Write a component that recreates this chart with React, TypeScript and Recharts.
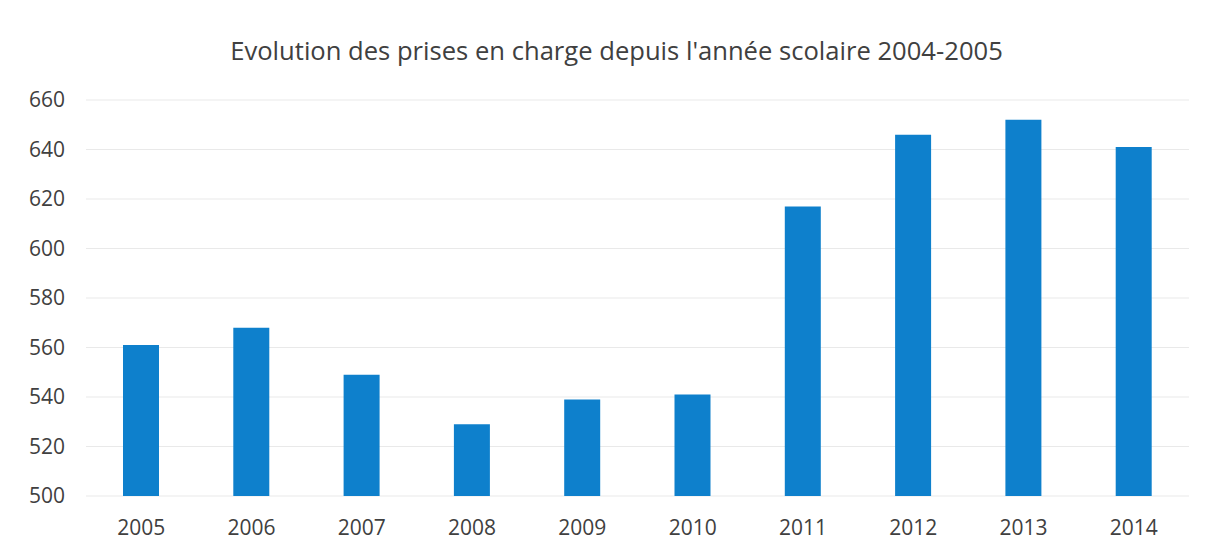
import React from "react";
import { BarChart, Bar, XAxis, YAxis, CartesianGrid } from "recharts";

const years = ["2005", "2006", "2007", "2008", "2009", "2010", "2011", "2012", "2013", "2014"];
const values = [561, 568, 549, 529, 539, 541, 617, 646, 652, 641];
const yTicks = [500, 520, 540, 560, 580, 600, 620, 640, 660];
const title = "Evolution des prises en charge depuis l'année scolaire 2004-2005";

const data = years.map((y, i) => ({ year: y, value: values[i] }));

const FONT = "'Open Sans', sans-serif";
const TEXT = "#404040";

export default function App() {
  return (
    <div style={{ position: "relative", width: 1191, height: 539, background: "#fff", fontFamily: FONT }}>
      <div
        style={{
          position: "absolute",
          left: 0,
          width: 1217,
          top: 25,
          textAlign: "center",
          fontSize: 25.6,
          color: TEXT,
          fontFamily: FONT,
          whiteSpace: "nowrap",
        }}
      >
        {title}
      </div>
      <BarChart
        width={1191}
        height={539}
        data={data}
        margin={{ top: 92, right: 10, bottom: 11, left: 0 }}
      >
        <CartesianGrid vertical={false} stroke="#e9e9e9" strokeWidth={1} />
        <XAxis
          dataKey="year"
          axisLine={false}
          tickLine={false}
          tickSize={0}
          tickMargin={24}
          height={40}
          tick={{ fill: TEXT, fontSize: 21, fontFamily: FONT }}
        />
        <YAxis
          domain={[500, 660]}
          ticks={yTicks}
          axisLine={false}
          tickLine={false}
          tickSize={0}
          tickMargin={21}
          width={78}
          interval={0}
          tick={{ fill: TEXT, fontSize: 21, fontFamily: FONT }}
        />
        <Bar dataKey="value" fill="#0e80cc" barSize={36} isAnimationActive={false} />
      </BarChart>
    </div>
  );
}
